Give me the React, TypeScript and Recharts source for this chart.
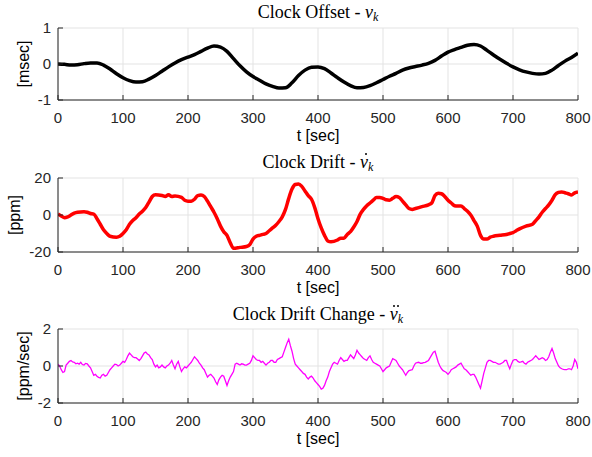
import React from "react";
import { LineChart, Line, XAxis, YAxis, CartesianGrid } from "recharts";

// time axis
const xTicks = [0, 100, 200, 300, 400, 500, 600, 700, 800];

// clock offset [msec], every 10 sec
const offsetT = [
  0, 10, 20, 30, 40, 50, 60, 70, 80, 90, 100, 110, 120, 130, 140, 150, 160, 170, 180, 190,
  200, 210, 220, 230, 240, 250, 260, 270, 280, 290, 300, 310, 320, 330, 340, 350, 360, 370, 380, 390,
  400, 410, 420, 430, 440, 450, 460, 470, 480, 490, 500, 510, 520, 530, 540, 550, 560, 570, 580, 590,
  600, 610, 620, 630, 640, 650, 660, 670, 680, 690, 700, 710, 720, 730, 740, 750, 760, 770, 780, 790, 800,
];
const offsetV = [
  0.0, -0.01, -0.03, -0.02, 0.01, 0.03, 0.03, -0.03, -0.14, -0.27, -0.38, -0.46, -0.5, -0.49, -0.42, -0.32, -0.2, -0.08, 0.03, 0.12,
  0.19, 0.26, 0.35, 0.44, 0.5, 0.47, 0.35, 0.15, -0.05, -0.22, -0.35, -0.45, -0.55, -0.62, -0.67, -0.66, -0.52, -0.32, -0.17, -0.09,
  -0.08, -0.13, -0.25, -0.38, -0.5, -0.6, -0.66, -0.65, -0.6, -0.52, -0.43, -0.34, -0.26, -0.17, -0.11, -0.07, -0.03, 0.02, 0.1, 0.22,
  0.33, 0.4, 0.46, 0.52, 0.54, 0.5, 0.38, 0.25, 0.13, 0.02, -0.08, -0.16, -0.22, -0.26, -0.28, -0.26, -0.17, -0.04, 0.08, 0.18, 0.3,
];

// clock drift [ppm]
const driftT = [
  0, 5, 10, 15, 20, 25, 30, 40, 45, 50, 55, 60, 65, 70, 75, 80, 90, 95, 100, 105,
  110, 115, 120, 125, 130, 135, 140, 145, 150, 160, 165, 170, 175, 180, 190, 195, 200, 205, 210, 215,
  220, 225, 230, 235, 240, 245, 250, 255, 260, 265, 270, 280, 290, 295, 300, 305, 310, 315, 320, 325,
  330, 335, 340, 345, 350, 355, 360, 365, 370, 375, 380, 385, 390, 395, 400, 405, 410, 415, 420, 430,
  435, 440, 445, 450, 455, 460, 465, 470, 475, 480, 485, 490, 495, 500, 505, 510, 515, 520, 525, 530,
  535, 540, 545, 550, 560, 570, 575, 580, 585, 590, 595, 600, 605, 610, 615, 620, 625, 630, 635, 640,
  645, 650, 655, 660, 665, 670, 680, 690, 695, 700, 705, 710, 720, 730, 735, 740, 745, 750, 755, 760,
  765, 770, 775, 780, 785, 790, 795, 800,
];
const driftV = [
  0.5, -0.5, -1.5, -1, 0, 1, 1.5, 1.8, 1.5, 0.8, 0.5, -2, -5, -8, -10, -11.5, -12, -11.5, -10, -8,
  -5, -3, -1.5, 0.5, 2, 4, 7, 10, 11, 10.5, 10, 11, 10, 10.3, 9.5, 8, 7.5, 7.5, 8.5, 10.5,
  10.8, 10, 7.5, 4.5, 1.5, -2, -6, -9, -11, -15, -18, -17.5, -17, -16, -13, -11.5, -11, -10.5, -10, -8.5,
  -7, -5.5, -3.5, -1, 3, 9, 14, 16.5, 16.8, 15.5, 13, 10.5, 8.5, 4, -2, -7, -11, -14, -14.5, -13.5,
  -12.5, -12.5, -10.5, -9, -6.5, -3.5, 0.5, 3, 5, 6.5, 8, 9.5, 9.5, 9, 8.2, 8, 9, 10, 9.5, 7.5,
  5.5, 3.5, 3, 3.5, 4.5, 5.5, 6.5, 10.5, 11.8, 11.5, 10, 8, 6.5, 5, 4.8, 4.8, 3.5, 2, 0, -3,
  -6, -11, -13, -13, -12, -11.5, -11, -10.5, -10, -9.5, -8.5, -7.5, -6, -5, -3, -1, 1.5, 3.5, 5.5, 8,
  11, 12.2, 12.5, 12, 11.5, 10.8, 12, 12.5,
];

// clock drift change [ppm/sec], every 2.5 sec
const changeV = [
  0.1, 0.0, -0.2, -0.35, -0.3, 0.05, 0.15, 0.25, 0.3, 0.22, 0.2, 0.12, 0.15, 0.1, 0.2, 0.08,
  0.05, 0.14, 0.12, 0.0, -0.1, -0.3, -0.5, -0.45, -0.55, -0.62, -0.65, -0.5, -0.45, -0.55, -0.5, -0.35,
  -0.2, -0.1, 0.0, 0.1, 0.08, 0.0, 0.05, 0.15, 0.25, 0.2, 0.35, 0.55, 0.7, 0.6, 0.5, 0.45,
  0.45, 0.38, 0.3, 0.4, 0.55, 0.7, 0.75, 0.65, 0.6, 0.45, 0.35, 0.1, -0.05, 0.05, -0.1, -0.05,
  0.05, -0.05, -0.1, 0.0, 0.05, 0.15, 0.3, 0.05, -0.15, 0.1, 0.25, -0.05, -0.3, -0.15, -0.05, -0.1,
  0.0, 0.1, 0.2, 0.35, 0.5, 0.4, 0.3, 0.15, 0.05, -0.1, -0.2, -0.4, -0.6, -0.5, -0.45, -0.55,
  -0.65, -0.85, -1.0, -0.75, -0.6, -0.5, -0.55, -0.8, -1.05, -0.8, -0.6, -0.45, -0.3, 0.1, 0.15, 0.1,
  0.05, 0.12, 0.1, 0.05, 0.05, 0.1, 0.15, 0.3, 0.55, 0.45, 0.35, 0.3, 0.3, 0.2, 0.25, 0.15,
  0.05, 0.15, 0.2, 0.3, 0.3, 0.2, 0.2, 0.35, 0.4, 0.45, 0.5, 0.75, 1.0, 1.25, 1.45, 1.1,
  0.8, 0.4, 0.1, 0.0, -0.1, -0.2, -0.3, -0.4, -0.45, -0.6, -0.7, -0.6, -0.55, -0.65, -0.8, -0.9,
  -1.0, -1.1, -1.25, -1.2, -1.05, -0.8, -0.6, -0.3, -0.1, 0.1, 0.2, 0.15, 0.1, 0.3, 0.45, 0.35,
  0.25, 0.3, 0.3, 0.45, 0.6, 0.5, 0.4, 0.6, 0.85, 0.7, 0.6, 0.5, 0.4, 0.35, 0.3, 0.45,
  0.55, 0.35, 0.2, 0.15, 0.1, 0.05, 0.0, -0.15, -0.3, -0.2, -0.1, -0.05, 0.0, 0.2, 0.4, 0.35,
  0.3, 0.15, 0.0, -0.1, -0.2, -0.35, -0.5, -0.35, -0.25, -0.22, -0.2, 0.0, 0.15, 0.18, 0.2, 0.15,
  0.15, 0.18, 0.2, 0.25, 0.3, 0.45, 0.6, 0.75, 0.8, 0.5, 0.2, 0.0, -0.15, -0.25, -0.3, -0.35,
  -0.45, -0.35, -0.2, -0.15, -0.1, -0.05, 0.05, 0.1, 0.15, 0.0, -0.15, -0.2, -0.3, -0.4, -0.5, -0.45,
  -0.45, -0.6, -0.8, -1.0, -1.2, -0.8, -0.4, -0.1, 0.2, 0.3, 0.3, 0.25, 0.2, 0.2, 0.15, 0.1,
  0.1, 0.15, 0.2, 0.3, 0.3, 0.05, -0.15, 0.1, 0.3, 0.35, 0.35, 0.25, 0.2, 0.22, 0.25, 0.15,
  0.1, 0.2, 0.25, 0.3, 0.35, 0.45, 0.55, 0.45, 0.35, 0.4, 0.45, 0.4, 0.3, 0.35, 0.5, 0.75,
  0.95, 0.7, 0.4, 0.2, 0.0, -0.1, -0.15, -0.18, -0.2, -0.2, -0.15, -0.15, -0.2, 0.0, 0.35, 0.2,
  -0.15,
];
const changeT = changeV.map((_, i) => i * 2.5);

const offsetData = offsetT.map((t, i) => ({ t, v: offsetV[i] }));
const driftData = driftT.map((t, i) => ({ t, v: driftV[i] }));
const changeData = changeT.map((t, i) => ({ t, v: changeV[i] }));

const W = 592;
const LEFT = 58;
const RIGHT = 578;
const AXIS = "#262626";
const GRID = "#e3e3e3";
const SANS = "Liberation Sans, Arial, sans-serif";
const tickFont = { fontFamily: SANS, fontSize: 15, fill: AXIS };

interface PanelProps {
  data: { t: number; v: number }[];
  top: number;
  bottom: number;
  domain: [number, number];
  yTicks: number[];
  color: string;
  width: number;
  curve: "monotone" | "linear";
  ylabel: string;
  labelX: number;
  title: React.ReactNode;
  titleY: number;
}

const Panel: React.FC<PanelProps> = (p) => {
  const h = p.bottom - p.top;
  const chartH = 150;
  const mt = 30;
  const xh = 30;
  return (
    <>
      <div
        style={{
          position: "absolute",
          left: LEFT,
          width: RIGHT - LEFT,
          top: p.titleY - 11,
          height: 22,
          lineHeight: "22px",
          textAlign: "center",
          fontFamily: "Liberation Serif, Times New Roman, serif",
          fontSize: 18,
          color: "#000",
          whiteSpace: "nowrap",
        }}
      >
        {p.title}
      </div>
      <div style={{ position: "absolute", left: 0, top: p.top - mt }}>
        <LineChart
          width={W}
          height={chartH}
          data={p.data}
          margin={{ top: mt, right: W - RIGHT, bottom: chartH - mt - h - xh, left: 0 }}
        >
          <CartesianGrid stroke={GRID} strokeWidth={1} />
          <XAxis
            dataKey="t"
            type="number"
            domain={[0, 800]}
            ticks={xTicks}
            height={xh}
            stroke={AXIS}
            tickSize={-5}
            tickMargin={17}
            tick={tickFont}
            interval={0}
            allowDataOverflow
          />
          <XAxis
            xAxisId="top"
            orientation="top"
            type="number"
            domain={[0, 800]}
            ticks={xTicks}
            height={0}
            stroke={AXIS}
            tickSize={-5}
            tick={false}
          />
          <YAxis
            type="number"
            domain={p.domain}
            ticks={p.yTicks}
            width={LEFT}
            stroke={AXIS}
            tickSize={-5}
            tickMargin={12}
            tick={tickFont}
            interval={0}
            allowDataOverflow
          />
          <YAxis
            yAxisId="right"
            orientation="right"
            type="number"
            domain={p.domain}
            ticks={p.yTicks}
            width={0}
            stroke={AXIS}
            tickSize={-5}
            tick={false}
          />
          <Line
            type={p.curve}
            dataKey="v"
            stroke={p.color}
            strokeWidth={p.width}
            dot={false}
            isAnimationActive={false}
          />
        </LineChart>
      </div>
      <div
        style={{
          position: "absolute",
          left: LEFT,
          width: RIGHT - LEFT,
          top: p.bottom + 26,
          height: 20,
          lineHeight: "20px",
          textAlign: "center",
          fontFamily: SANS,
          fontSize: 16,
          color: "#000",
        }}
      >
        t [sec]
      </div>
      <div
        style={{
          position: "absolute",
          left: p.labelX - 60,
          width: 120,
          top: (p.top + p.bottom) / 2 - 10,
          height: 20,
          lineHeight: "20px",
          textAlign: "center",
          transform: "rotate(-90deg)",
          fontFamily: SANS,
          fontSize: 16,
          color: "#000",
        }}
      >
        {p.ylabel}
      </div>
    </>
  );
};

// small drawn dot used for the time-derivative accents
const Dot: React.FC<{ x: number }> = ({ x }) => (
  <span
    style={{
      position: "absolute",
      left: x,
      top: 2,
      width: 2,
      height: 2,
      borderRadius: 1,
      background: "#000",
    }}
  />
);

// italic nu with 0, 1 or 2 dots above and subscript k
const nu = (dots: number) => (
  <span style={{ fontStyle: "italic" }}>
    <span style={{ position: "relative", display: "inline-block" }}>
      {"\u03bd"}
      {dots === 1 && <Dot x={5} />}
      {dots === 2 && (
        <>
          <Dot x={3} />
          <Dot x={7} />
        </>
      )}
    </span>
    <sub style={{ fontSize: 12, verticalAlign: "-3px" }}>k</sub>
  </span>
);

export default function App() {
  return (
    <div
      style={{
        position: "absolute",
        left: 0,
        top: 0,
        width: 592,
        height: 457,
        background: "#fff",
        overflow: "hidden",
      }}
    >
      <Panel
        data={offsetData}
        top={28}
        bottom={100}
        domain={[-1, 1]}
        yTicks={[-1, 0, 1]}
        color="#000000"
        width={3.5}
        curve="monotone"
        ylabel="[msec]"
        labelX={24}
        title={<>Clock Offset - {nu(0)}</>}
        titleY={12}
      />
      <Panel
        data={driftData}
        top={178}
        bottom={252}
        domain={[-20, 20]}
        yTicks={[-20, 0, 20]}
        color="#ff0000"
        width={3.5}
        curve="monotone"
        ylabel="[ppm]"
        labelX={15}
        title={<>Clock Drift - {nu(1)}</>}
        titleY={162}
      />
      <Panel
        data={changeData}
        top={329}
        bottom={403}
        domain={[-2, 2]}
        yTicks={[-2, 0, 2]}
        color="#ff00ff"
        width={1.3}
        curve="linear"
        ylabel="[ppm/sec]"
        labelX={24}
        title={<>Clock Drift Change - {nu(2)}</>}
        titleY={314}
      />
    </div>
  );
}
